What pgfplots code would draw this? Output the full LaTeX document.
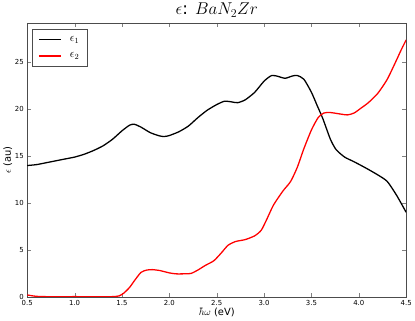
\documentclass[border=0pt]{standalone}
\usepackage{pgfplots}
\pgfplotsset{compat=1.18}
\usepackage{fontspec}
\setmainfont{DejaVu Sans}
\begin{document}
\begin{tikzpicture}
\begin{axis}[
    scale only axis,
    width=382bp, height=276bp,
    xmin=0.5, xmax=4.5, ymin=0, ymax=29.2,
    xtick={0.5,1.0,...,4.5},
    ytick={0,5,10,15,20,25},
    xticklabel style={/pgf/number format/.cd,fixed,fixed zerofill,precision=1},
    /pgf/number format/assume math mode=true,
    tick label style={font=\fontsize{7}{8}\selectfont},
    tick align=inside,
    major tick length=4pt,
    xlabel={$\hbar\omega$ (eV)}, ylabel={$\epsilon$ (au)},
    label style={font=\fontsize{10}{12}\selectfont},
    xlabel style={yshift=4pt},
    ylabel style={yshift=-4pt},
    title={$\epsilon$: $BaN_2Zr$},
    title style={font=\fontsize{17}{20}\selectfont, yshift=-4pt},
    axis line style={draw=black!70},
    legend style={font=\fontsize{12}{14}\selectfont, draw=black!70, inner xsep=6pt, inner ysep=5pt,
        at={(0.013,0.978)}, anchor=north west, row sep=6pt,
        /tikz/every odd column/.append style={column sep=6pt}},
    legend cell align=left,
    legend image code/.code={\draw[#1] (0cm,0cm) -- (0.8cm,0cm);},
]
\addplot[black, line width=1.3pt, smooth, tension=0.4] coordinates {
(0.5,14.0)(0.6,14.1)(0.7,14.3)(0.8,14.5)(0.9,14.7)(1.0,14.9)(1.1,15.2)(1.2,15.6)
(1.3,16.1)(1.4,16.8)(1.5,17.7)(1.58,18.3)(1.63,18.4)(1.7,18.1)(1.8,17.5)(1.9,17.15)
(1.95,17.1)(2.0,17.2)(2.1,17.6)(2.2,18.2)(2.3,19.1)(2.4,19.9)(2.5,20.5)(2.58,20.85)
(2.65,20.8)(2.72,20.7)(2.8,21.0)(2.9,21.8)(3.0,23.0)(3.08,23.6)(3.15,23.5)(3.22,23.3)
(3.3,23.55)(3.35,23.6)(3.42,23.2)(3.5,21.8)(3.56,20.4)(3.62,19.0)(3.7,16.8)(3.76,15.7)
(3.85,14.9)(3.95,14.4)(4.08,13.7)(4.2,13.0)(4.3,12.3)(4.4,10.8)(4.5,9.0)
};
\addlegendentry{$\epsilon_1$}
\addplot[red, line width=1.3pt, smooth, tension=0.4] coordinates {
(0.5,0.2)(0.6,0.05)(0.8,0.0)(1.0,0.02)(1.2,0.0)(1.4,0.02)(1.47,0.1)(1.52,0.4)
(1.58,1.0)(1.63,1.7)(1.7,2.6)(1.76,2.85)(1.82,2.9)(1.9,2.8)(2.0,2.55)(2.07,2.45)
(2.15,2.45)(2.23,2.5)(2.3,2.85)(2.38,3.35)(2.47,3.85)(2.55,4.7)(2.62,5.5)(2.7,5.9)
(2.8,6.1)(2.9,6.5)(2.97,7.1)(3.03,8.3)(3.1,9.8)(3.2,11.3)(3.28,12.3)(3.35,13.8)
(3.42,15.8)(3.5,17.8)(3.57,19.1)(3.63,19.6)(3.7,19.65)(3.8,19.5)(3.88,19.4)(3.95,19.6)
(4.02,20.1)(4.1,20.7)(4.2,21.7)(4.3,23.2)(4.4,25.3)(4.45,26.4)(4.5,27.4)
};
\addlegendentry{$\epsilon_2$}
\addplot[black, dashed, line width=0.6pt, forget plot] coordinates {(0.5,0)(4.5,0)};
\end{axis}
\end{tikzpicture}
\end{document}
